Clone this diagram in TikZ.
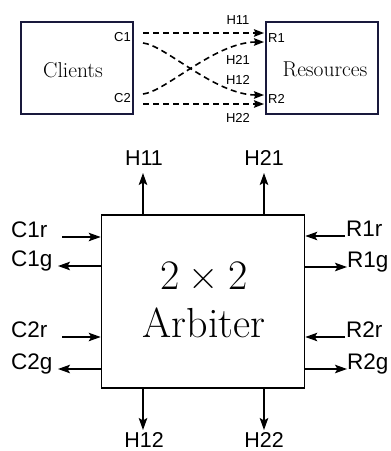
\documentclass[tikz,border=0pt]{standalone}
\usepackage{fontspec}
\newfontfamily\labfont{Liberation Sans}
\usetikzlibrary{arrows.meta,calc}
\definecolor{navy}{RGB}{25,25,60}
\begin{document}
\begin{tikzpicture}[x=1pt,y=-1pt,
  topbox/.style={draw=navy,line width=1.7pt,inner sep=0pt},
  small/.style={font=\labfont\fontsize{13}{15}\selectfont,inner sep=0pt},
  big/.style={font=\labfont\fontsize{21.5}{24}\selectfont,inner sep=0pt},
  side/.style={font=\labfont\fontsize{22.5}{25}\selectfont,inner sep=0pt},
  serif/.style={font=\fontsize{21.5}{24}\selectfont,inner sep=0pt},
  dasharrow/.style={line width=1.6pt,dash pattern=on 6pt off 4pt,-{Stealth[length=10pt,width=7.5pt,inset=1.5pt]}},
  arr/.style={line width=1.6pt,-{Stealth[length=12pt,width=8.5pt,inset=2.5pt]}},
]
\useasboundingbox (0,0) rectangle (391,451);
% ---------- top diagram ----------
\node[topbox,minimum width=112pt,minimum height=92pt] (clients) at (77,68) {};
\node[topbox,minimum width=112pt,minimum height=92pt] (resources) at (322,68) {};
\node[serif,anchor=base] (clientstxt) at (73,77) {Clients};
\node[serif,anchor=base] (restxt) at (325,76) {Resources};
\node[small,anchor=east] (c1) at (131,37) {C1};
\node[small,anchor=east] (c2) at (131,98) {C2};
\node[small,anchor=west] (r1) at (268,38) {R1};
\node[small,anchor=west] (r2) at (268,99) {R2};
\coordinate (c1a) at (143,33);
\coordinate (c1b) at (143,43);
\coordinate (c2a) at (143,94);
\coordinate (c2b) at (143,104);
\coordinate (r1a) at (264,33);
\coordinate (r1b) at (264,42);
\coordinate (r2a) at (264,95);
\coordinate (r2b) at (264,104);
\draw[dasharrow] (c1a) -- (r1a);
\draw[dasharrow] (c1b) .. controls (165,45) and (215,95) .. (r2a);
\draw[dasharrow] (c2a) .. controls (165,92) and (215,42) .. (r1b);
\draw[dasharrow] (c2b) -- (r2b);
\node[small] (th11) at (238,20) {H11};
\node[small] (th21) at (238,60) {H21};
\node[small] (th12) at (238,80) {H12};
\node[small] (th22) at (238,118) {H22};
% ---------- arbiter ----------
\node[draw,line width=1.6pt,minimum width=203pt,minimum height=173pt,inner sep=0pt] (arb) at (203,301.5) {};
\node[align=center,inner sep=0pt,font=\fontsize{42}{48}\selectfont] (arbtxt) at (204,299.5) {2\hspace{0.222em}×\hspace{0.222em}2\\Arbiter};
% top outputs
\coordinate (h11t) at (143,173);
\coordinate (h21t) at (264,173);
\draw[arr] (arb.north -| h11t) -- (h11t);
\draw[arr] (arb.north -| h21t) -- (h21t);
\node[big,anchor=base] (h11) at (144,165) {H11};
\node[big,anchor=base] (h21) at (264,165) {H21};
% bottom outputs
\coordinate (h12t) at (143,430);
\coordinate (h22t) at (264,430);
\draw[arr] (arb.south -| h12t) -- (h12t);
\draw[arr] (arb.south -| h22t) -- (h22t);
\node[big,anchor=base] (h12) at (144,447) {H12};
\node[big,anchor=base] (h22) at (264,447) {H22};
% left side
\coordinate (c1rt) at (62,237);
\coordinate (c1gt) at (58,266);
\coordinate (c2rt) at (62,337);
\coordinate (c2gt) at (58,369);
\draw[arr] (c1rt) -- (arb.west |- c1rt);
\draw[arr] (arb.west |- c1gt) -- (c1gt);
\draw[arr] (c2rt) -- (arb.west |- c2rt);
\draw[arr] (arb.west |- c2gt) -- (c2gt);
\node[side,anchor=base west] (c1r) at (11,237) {C1r};
\node[side,anchor=base west] (c1g) at (11,266) {C1g};
\node[side,anchor=base west] (c2r) at (11,337) {C2r};
\node[side,anchor=base west] (c2g) at (11,369) {C2g};
% right side
\coordinate (r1rt) at (345,236);
\coordinate (r1gt) at (347,267);
\coordinate (r2rt) at (345,337);
\coordinate (r2gt) at (347,369);
\draw[arr] (r1rt) -- (arb.east |- r1rt);
\draw[arr] (arb.east |- r1gt) -- (r1gt);
\draw[arr] (r2rt) -- (arb.east |- r2rt);
\draw[arr] (arb.east |- r2gt) -- (r2gt);
\node[side,anchor=base west] (r1r) at (346,236) {R1r};
\node[side,anchor=base west] (r1g) at (347,267) {R1g};
\node[side,anchor=base west] (r2r) at (346,337) {R2r};
\node[side,anchor=base west] (r2g) at (347,369) {R2g};
\end{tikzpicture}
\end{document}
